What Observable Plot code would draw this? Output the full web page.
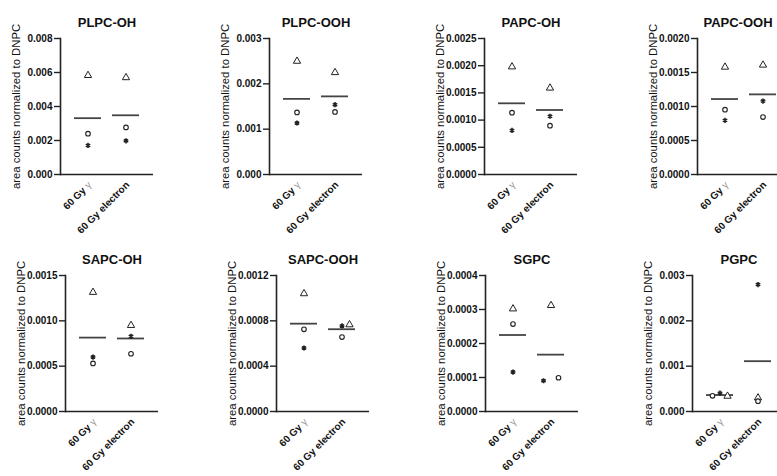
<!DOCTYPE html>
<html><head><meta charset="utf-8">
<script src="https://cdn.jsdelivr.net/npm/d3@7"></script>
<script src="https://cdn.jsdelivr.net/npm/@observablehq/plot@0.6"></script>
<style>
body{margin:0;background:#fff;overflow:hidden}
#chart{position:relative;width:777px;height:476px;overflow:hidden;font-family:"Liberation Sans",Arial,sans-serif;background:#fff}
#chart svg{position:absolute;overflow:visible}
</style></head><body><div id="chart"></div>
<script>
// ---- data ----
const panels = ["PLPC-OH","PLPC-OOH","PAPC-OH","PAPC-OOH","SAPC-OH","SAPC-OOH","SGPC","PGPC"];
const groups = ["60 Gy γ","60 Gy electron"];
const yMax  = [0.008,0.003,0.0025,0.002,0.0015,0.0012,0.0004,0.003];
const yStep = [0.002,0.001,0.0005,0.0005,0.0005,0.0004,0.0001,0.001];
// values per panel: [60 Gy γ, 60 Gy electron]
const triangleValues = [[0.00583,0.00570],[0.00250,0.00225],[0.00198,0.00159],[0.00158,0.00161],[0.001315,0.00095],[0.00104,0.000766],[0.000302,0.000312],[0.000339,0.000302]];
const circleValues   = [[0.00240,0.00277],[0.00137,0.00138],[0.001136,0.000897],[0.000953,0.000845],[0.00053,0.000637],[0.000725,0.000657],[0.000257,0.0000993],[0.000346,0.000228]];
const starValues     = [[0.00171,0.00198],[0.001135,0.00154],[0.00081,0.00107],[0.000796,0.00108],[0.0006,0.000829],[0.00056,0.000755],[0.000116,0.0000904],[0.000405,0.0028]];
const yLabel = "area counts normalized to DNPC";

// ---- layout (not data) ----
const panelLeft = [2,211,426,639,7,218,427,634];
const panelTop  = [0,0,0,0,237,237,237,237];
const titleDx   = [0,0,0,-6,0,0,0,0];
// column-scatter slots used to keep overlapping symbols apart (panel|marker|group)
const scatterSlots = {"5|triangle|1":1,"6|star|1":-1,"6|circle|1":1,"7|circle|0":-1,"7|triangle|0":1};
const markerStyle = {
  triangle:{symbol:"triangle",r:2.7,fill:"white",stroke:"#222",strokeWidth:1},
  circle:{symbol:"circle",r:2.3,fill:"white",stroke:"#222",strokeWidth:1.1},
  star:{symbol:"asterisk",r:2.4,fill:"#222",stroke:"#222",strokeWidth:1.6}
};

const chart = document.getElementById("chart");
panels.forEach((name, i) => {
  const rows = [];
  const sets = {triangle: triangleValues[i], circle: circleValues[i], star: starValues[i]};
  for (const marker of Object.keys(sets)) {
    sets[marker].forEach((v, g) => rows.push({group: groups[g], value: v, marker, slot: scatterSlots[`${i}|${marker}|${g}`] || 0}));
  }
  const ticks = d3.range(0, yMax[i] + yStep[i] / 2, yStep[i]);
  const fmt = d3.format("." + d3.precisionFixed(yStep[i]) + "f");
  const dotMarks = [];
  for (const marker of ["triangle","circle","star"]) {
    for (const slot of [-1,0,1]) {
      const d = rows.filter(r => r.marker === marker && r.slot === slot);
      if (d.length) dotMarks.push(Plot.dot(d, {x:"group", y:"value", dx: slot * 7.5, ...markerStyle[marker]}));
    }
  }
  const svg = Plot.plot({
    width: 156, height: 236,
    marginLeft: 58, marginRight: 5, marginTop: 38, marginBottom: 62,
    style: {fontFamily: '"Liberation Sans",Arial,sans-serif', fontSize: "10px", color: "#111", background: "transparent", overflow: "visible"},
    x: {type: "band", domain: groups, paddingInner: 0.3, paddingOuter: 0.35, label: null, axis: null},
    y: {domain: [0, yMax[i]], label: null},
    marks: [
      Plot.frame({anchor: "left", stroke: "#222", strokeWidth: 1.6}),
      Plot.ruleY([0], {stroke: "#222", strokeWidth: 1.6}),
      Plot.axisY({ticks, tickFormat: fmt, tickSize: 6, tickPadding: 2, strokeWidth: 1.4, stroke: "#222", fontWeight: "bold", fontSize: 10, label: null}),
      Plot.text([yLabel], {frameAnchor: "left", textAnchor: "middle", rotate: -90, dx: -44, fontSize: 11.3, fill: "#111"}),
      Plot.text(groups, {x: d => d, frameAnchor: "bottom", rotate: -45, textAnchor: "end", dx: 4, dy: 11, fontWeight: "bold", fontSize: 10, fill: "#111"}),
      Plot.tickY(rows, Plot.groupX({y: "mean"}, {x: "group", y: "value", stroke: "#444", strokeWidth: 1.8})),
      ...dotMarks,
      Plot.text([name], {frameAnchor: "top", dy: -21, dx: titleDx[i], fontWeight: "bold", fontSize: 13, fill: "#111"})
    ]
  });
  svg.style.left = panelLeft[i] + "px";
  svg.style.top = panelTop[i] + "px";
  // render γ in a light, normal-weight face like the original
  svg.querySelectorAll("text").forEach(t => {
    if (t.textContent === groups[0] && !t.querySelector("tspan")) {
      t.textContent = "";
      const a = document.createElementNS("http://www.w3.org/2000/svg", "tspan");
      a.textContent = "60 Gy ";
      const b = document.createElementNS("http://www.w3.org/2000/svg", "tspan");
      b.textContent = "γ";
      b.setAttribute("font-weight", "normal");
      b.setAttribute("fill", "#999");
      t.append(a, b);
    }
  });
  chart.appendChild(svg);
});
</script></body></html>
